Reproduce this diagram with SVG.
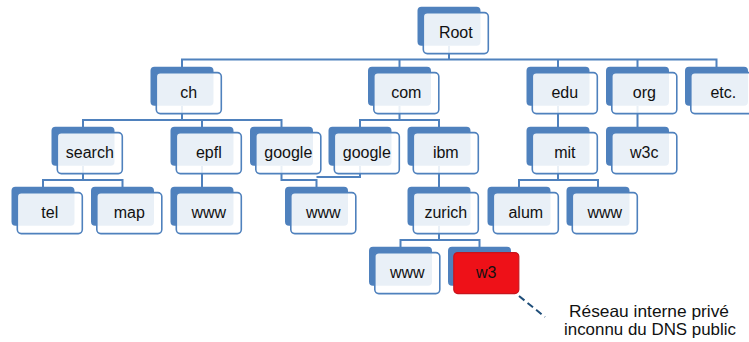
<svg xmlns="http://www.w3.org/2000/svg" xmlns:xlink="http://www.w3.org/1999/xlink" width="749" height="342" viewBox="0 0 749 342">
<style>
.bk{fill:#4F81BD;}
.fr{fill:#ffffff;fill-opacity:0.88;stroke:#4F81BD;stroke-width:1.6;}
.red{fill:#EE1118;stroke:#C8141C;stroke-width:1.2;}
.lbl{font-family:"Liberation Sans",Arial,sans-serif;font-size:16px;fill:#111;text-anchor:middle;}
.con{fill:none;stroke:#4F81BD;stroke-width:2;}
.note{font-family:"Liberation Sans",Arial,sans-serif;font-size:16.5px;fill:#111;text-anchor:middle;}
</style>
<defs>
<rect id="b" class="bk" x="0" y="0" width="63" height="39" rx="4"/>
<rect id="f" class="fr" x="5.8" y="5.8" width="65" height="41" rx="4"/>
</defs>
<rect width="749" height="342" fill="#ffffff"/>
<g id="connectors">
<path class="con" d="M449,46 V59.5 H182 V67 M449,59.5 H716.5 V67 M399.5,59.5 V67 M558,59.5 V67 M637.5,59.5 V67"/>
<path class="con" d="M182,106 V120 H83 V127 M182,120 H281.5 V127 M202,120 V127"/>
<path class="con" d="M399.5,106 V120 H360 V127 M399.5,120 H439 V127"/>
<path class="con" d="M558,106 V127 M637.5,106 V127"/>
<path class="con" d="M83,166 V180 H43 V187 M83,180 H122.5 V187"/>
<path class="con" d="M202,166 V187"/>
<path class="con" d="M281.5,166 V180 H316.5 V187 M360,166 V177 H316.5"/>
<path class="con" d="M439,166 V187"/>
<path class="con" d="M558,166 V180 H519 V187 M558,180 H598 V187"/>
<path class="con" d="M439,226 V240 H400.5 V247 M439,240 H479.5 V247"/>
<path d="M519,296 L545,317" fill="none" stroke="#1F4E79" stroke-width="2" stroke-dasharray="7,4"/>
</g>
<g id="node-root" transform="translate(417.5,6.8)"><use xlink:href="#b"/><use xlink:href="#f"/><text class="lbl" x="38.3" y="31.5">Root</text></g>
<g id="node-ch" transform="translate(150.5,66.8)"><use xlink:href="#b"/><use xlink:href="#f"/><text class="lbl" x="38.3" y="31.5">ch</text></g>
<g id="node-com" transform="translate(368,66.8)"><use xlink:href="#b"/><use xlink:href="#f"/><text class="lbl" x="38.3" y="31.5">com</text></g>
<g id="node-edu" transform="translate(526.5,66.8)"><use xlink:href="#b"/><use xlink:href="#f"/><text class="lbl" x="38.3" y="31.5">edu</text></g>
<g id="node-org" transform="translate(606,66.8)"><use xlink:href="#b"/><use xlink:href="#f"/><text class="lbl" x="38.3" y="31.5">org</text></g>
<g id="node-etc" transform="translate(685,66.8)"><use xlink:href="#b"/><use xlink:href="#f"/><text class="lbl" x="38.3" y="31.5">etc.</text></g>
<g id="node-search" transform="translate(51.5,126.8)"><use xlink:href="#b"/><use xlink:href="#f"/><text class="lbl" x="38.3" y="31.5">search</text></g>
<g id="node-epfl" transform="translate(170.5,126.8)"><use xlink:href="#b"/><use xlink:href="#f"/><text class="lbl" x="38.3" y="31.5">epfl</text></g>
<g id="node-google-ch" transform="translate(250,126.8)"><use xlink:href="#b"/><use xlink:href="#f"/><text class="lbl" x="38.3" y="31.5">google</text></g>
<g id="node-google-com" transform="translate(328.5,126.8)"><use xlink:href="#b"/><use xlink:href="#f"/><text class="lbl" x="38.3" y="31.5">google</text></g>
<g id="node-ibm" transform="translate(407.5,126.8)"><use xlink:href="#b"/><use xlink:href="#f"/><text class="lbl" x="38.3" y="31.5">ibm</text></g>
<g id="node-mit" transform="translate(526.5,126.8)"><use xlink:href="#b"/><use xlink:href="#f"/><text class="lbl" x="38.3" y="31.5">mit</text></g>
<g id="node-w3c" transform="translate(606,126.8)"><use xlink:href="#b"/><use xlink:href="#f"/><text class="lbl" x="38.3" y="31.5">w3c</text></g>
<g id="node-tel" transform="translate(11.5,186.8)"><use xlink:href="#b"/><use xlink:href="#f"/><text class="lbl" x="38.3" y="31.5">tel</text></g>
<g id="node-map" transform="translate(91,186.8)"><use xlink:href="#b"/><use xlink:href="#f"/><text class="lbl" x="38.3" y="31.5">map</text></g>
<g id="node-www-epfl" transform="translate(170.5,186.8)"><use xlink:href="#b"/><use xlink:href="#f"/><text class="lbl" x="38.3" y="31.5">www</text></g>
<g id="node-www-google" transform="translate(285,186.8)"><use xlink:href="#b"/><use xlink:href="#f"/><text class="lbl" x="38.3" y="31.5">www</text></g>
<g id="node-zurich" transform="translate(407.5,186.8)"><use xlink:href="#b"/><use xlink:href="#f"/><text class="lbl" x="38.3" y="31.5">zurich</text></g>
<g id="node-alum" transform="translate(487.5,186.8)"><use xlink:href="#b"/><use xlink:href="#f"/><text class="lbl" x="38.3" y="31.5">alum</text></g>
<g id="node-www-mit" transform="translate(566.5,186.8)"><use xlink:href="#b"/><use xlink:href="#f"/><text class="lbl" x="38.3" y="31.5">www</text></g>
<g id="node-www-zurich" transform="translate(369,246.8)"><use xlink:href="#b"/><use xlink:href="#f"/><text class="lbl" x="38.3" y="31.5">www</text></g>
<g id="node-w3" transform="translate(448,246.8)"><use xlink:href="#b"/><rect class="red" x="5.8" y="5.8" width="65" height="41" rx="4"/><text class="lbl" x="38.3" y="31.5">w3</text></g>
<g id="note">
<text class="note" x="649" y="317" textLength="160" lengthAdjust="spacingAndGlyphs">Réseau interne privé</text>
<text class="note" x="650" y="335" textLength="172" lengthAdjust="spacingAndGlyphs">inconnu du DNS public</text>
</g>
</svg>
